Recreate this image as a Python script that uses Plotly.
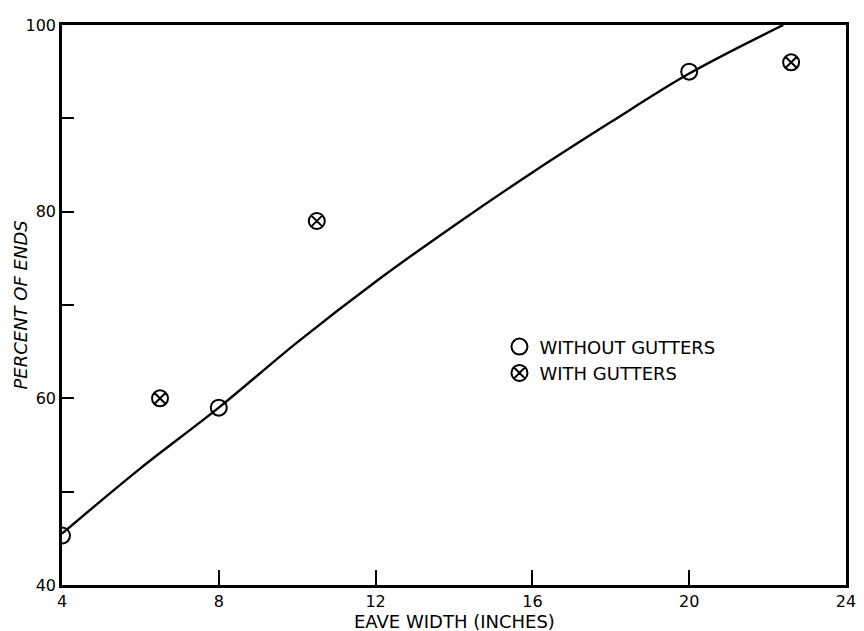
import plotly.graph_objects as go

# Data
without_x = [4, 8, 20]
without_y = [45.3, 59, 95]
with_x = [6.5, 10.5, 22.6]
with_y = [60, 79, 96]
curve_x = [4, 6, 8, 10, 12, 14, 16, 18, 20, 22.4]
curve_y = [45.5, 52.5, 59, 66, 72.5, 78.5, 84.2, 89.6, 94.8, 100]
x_ticks = [4, 8, 12, 16, 20, 24]
y_ticks = [40, 50, 60, 70, 80, 90, 100]
y_labels = ["40", "", "60", "", "80", "", "100"]
x_title = "EAVE WIDTH (INCHES)"
y_title = "<i>PERCENT OF ENDS</i>"

FONT = "DejaVu Sans"
# the page body adds an 8px offset, so the figure is drawn 8px smaller
W, H = 856, 623
ML, MR, MT, MB = 54, 8, 11, 46
PW, PH = W - ML - MR, H - MT - MB

fig = go.Figure()
fig.add_trace(go.Scatter(x=curve_x, y=curve_y, mode="lines",
                         line=dict(color="black", width=2.4, shape="spline", smoothing=1.0),
                         showlegend=False, hoverinfo="skip"))
fig.add_trace(go.Scatter(x=without_x, y=without_y, mode="markers", name="WITHOUT GUTTERS",
                         marker=dict(symbol="circle-open", size=16, color="black", line=dict(width=2))))
fig.add_trace(go.Scatter(x=with_x, y=with_y, mode="markers", name="WITH GUTTERS",
                         marker=dict(symbol="circle-x-open", size=16, color="black", line=dict(width=2))))

fig.add_annotation(text=x_title, xref="paper", yref="paper", x=0.5,
                   y=-(614 - (H - MB)) / PH, xanchor="center", yanchor="middle",
                   showarrow=False, font=dict(size=18, family=FONT, color="black"))
fig.add_annotation(text=y_title, xref="paper", yref="paper", x=(11 - ML) / PW,
                   y=0.5, xanchor="center", yanchor="middle", textangle=-90,
                   showarrow=False, font=dict(size=18, family=FONT, color="black"))

fig.update_layout(
    width=W, height=H,
    margin=dict(l=ML, r=MR, t=MT, b=MB),
    paper_bgcolor="white", plot_bgcolor="white",
    font=dict(family=FONT, color="black", size=16),
    legend=dict(x=0.558, y=0.402, xanchor="left", yanchor="middle",
                bgcolor="rgba(0,0,0,0)", font=dict(size=18, family=FONT),
                itemwidth=30, tracegroupgap=8),
    xaxis=dict(range=[4, 24], tickvals=x_ticks, ticktext=[str(v) for v in x_ticks],
               ticks="inside", ticklen=15, tickwidth=1.8, tickcolor="black",
               showline=True, linecolor="black", linewidth=2.5, mirror=True,
               showgrid=False, zeroline=False, ticklabeloverflow="allow",
               tickfont=dict(size=16, family=FONT)),
    yaxis=dict(range=[40, 100], tickvals=y_ticks, ticktext=y_labels,
               ticks="inside", ticklen=12, tickwidth=1.8, tickcolor="black",
               showline=True, linecolor="black", linewidth=2.5, mirror=True,
               showgrid=False, zeroline=False,
               tickfont=dict(size=16, family=FONT)),
)

fig.write_html("out.html")
